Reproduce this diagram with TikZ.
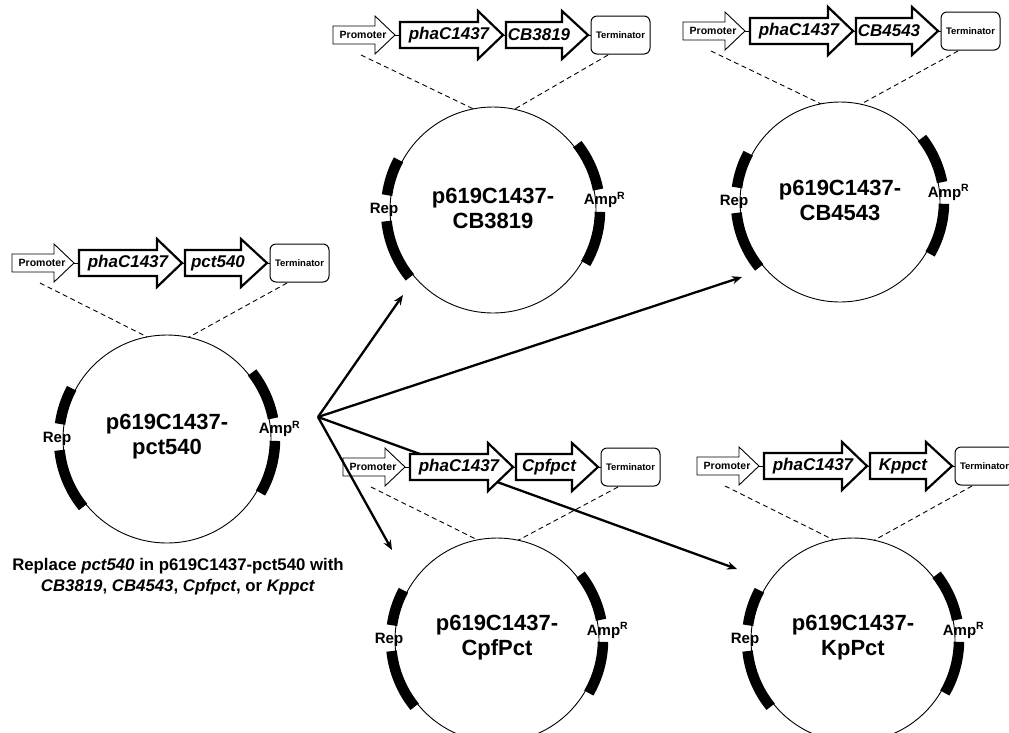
\documentclass[tikz,border=0pt]{standalone}
\usepackage{fontspec}
\setmainfont{Liberation Sans}
\usetikzlibrary{arrows.meta}
\tikzset{
 promstyle/.style={draw, line width=0.9pt, fill=white, line join=miter},
 genestyle/.style={draw, line width=2.2pt, fill=white, line join=miter, miter limit=10},
 termstyle/.style={draw, line width=1pt, fill=white, rounded corners=6pt},
 linkstyle/.style={line width=0.8pt},
 dashstyle/.style={dash pattern=on 5pt off 3.5pt, line width=0.9pt},
 ringstyle/.style={line width=0.9pt},
 markerstyle/.style={line width=10.5pt},
 fanstyle/.style={line width=2.3pt, -{Stealth[length=10pt,width=8pt]}},
 promtext/.style={font=\fontsize{10.5}{12}\selectfont\bfseries, inner sep=0pt},
 termtext/.style={font=\fontsize{9.5}{11}\selectfont\bfseries, inner sep=0pt},
 genetext/.style={font=\fontsize{17}{19}\selectfont\bfseries\itshape, inner sep=0pt},
 nametext/.style={font=\fontsize{22}{25}\selectfont\bfseries, align=center, inner sep=0pt},
 labtext/.style={font=\fontsize{15}{17}\selectfont\bfseries, inner sep=0pt},
 notetext/.style={font=\fontsize{16.8}{21}\selectfont\bfseries, align=center, inner sep=0pt},
}
\newcommand\cassette[4]{%
\begin{scope}[shift={(#1,#2)}]
 \draw[linkstyle] (62,0) -- (67,0) (170,0) -- (173,0) (255,0) -- (258,0);
 \draw[promstyle] (0,-9) -- (42,-9) -- (42,-19) -- (62,0) -- (42,19) -- (42,9) -- (0,9) -- cycle;
 \draw[genestyle] (67,-13) -- (145,-13) -- (145,-24) -- (170,0) -- (145,24) -- (145,13) -- (67,13) -- cycle;
 \draw[genestyle] (173,-13) -- (229,-13) -- (229,-24) -- (255,0) -- (229,24) -- (229,13) -- (173,13) -- cycle;
 \draw[termstyle] (258,-19) rectangle (317,19);
 \node[promtext] (#4prom) at (30,0) {Promoter};
 \node[genetext] (#4pha) at (116,0) {phaC1437};
 \node[genetext] (#4gene) at (206,0) {#3};
 \node[termtext] (#4term) at (287.5,0) {Terminator};
 \coordinate (#4dl) at (28,20);
 \coordinate (#4dr) at (275,20);
\end{scope}}
\newcommand\plasmid[6]{%
\begin{scope}[shift={(#1,#2)}, yscale=-1]
 \coordinate (#6c) at (0,0);
 \draw[ringstyle] (0,0) circle[radius=#3];
 \draw[markerstyle] (152:{#3+4}) arc[start angle=152,end angle=172,radius={#3+4}];
 \draw[markerstyle] (186:{#3+4}) arc[start angle=186,end angle=219,radius={#3+4}];
 \draw[markerstyle] (11:{#3+4}) arc[start angle=11,end angle=38,radius={#3+4}];
 \draw[markerstyle] (-30:{#3+4}) arc[start angle=-30,end angle=-1,radius={#3+4}];
 \node[labtext] (#6rep) at (180:{#3+6}) {Rep};
 \node[labtext] (#6amp) at (5:{#3+9}) {Amp\textsuperscript{R}};
 \node[nametext] (#6name) at (0,2) {#4\\#5};
 \coordinate (#6tl) at (101:#3);
 \coordinate (#6tr) at (78:#3);
\end{scope}}
\begin{document}
\begin{tikzpicture}[x=1pt,y=-1pt]
\useasboundingbox (0,0) rectangle (1009,732);
\clip (0,0) rectangle (1009,732);
\fill[white] (0,0) rectangle (1009,732);
% fan targets
\coordinate (fan) at (318,417);
\coordinate (t1) at (403,295);
\coordinate (t2) at (742,277);
\coordinate (t3) at (392,550);
\coordinate (t4) at (737,569);
\draw[fanstyle] (fan) -- (t4);
% cassettes
\cassette{12}{263}{pct540}{A}
\cassette{333}{35}{CB3819}{B}
\cassette{683}{31}{CB4543}{C}
\cassette{343}{467}{Cpfpct}{D}
\cassette{697}{466}{Kppct}{E}
% plasmids
\plasmid{167}{439}{104}{p619C1437-}{pct540}{A}
\plasmid{493}{210}{103}{p619C1437-}{CB3819}{B}
\plasmid{840}{202}{100}{p619C1437-}{CB4543}{C}
\plasmid{497}{640}{102}{p619C1437-}{CpfPct}{D}
\plasmid{853}{640}{102}{p619C1437-}{KpPct}{E}
% dashed links
\foreach \p in {A,B,C,D,E}{
 \draw[dashstyle] (\p dl) -- (\p tl);
 \draw[dashstyle] (\p dr) -- (\p tr);
}
\draw[fanstyle] (fan) -- (t1);
\draw[fanstyle] (fan) -- (t2);
\draw[fanstyle] (fan) -- (t3);
\node[notetext] (note) at (178,577) {Replace \textit{pct540} in p619C1437-pct540 with\\\textit{CB3819}, \textit{CB4543}, \textit{Cpfpct}, or \textit{Kppct}};
\end{tikzpicture}
\end{document}
